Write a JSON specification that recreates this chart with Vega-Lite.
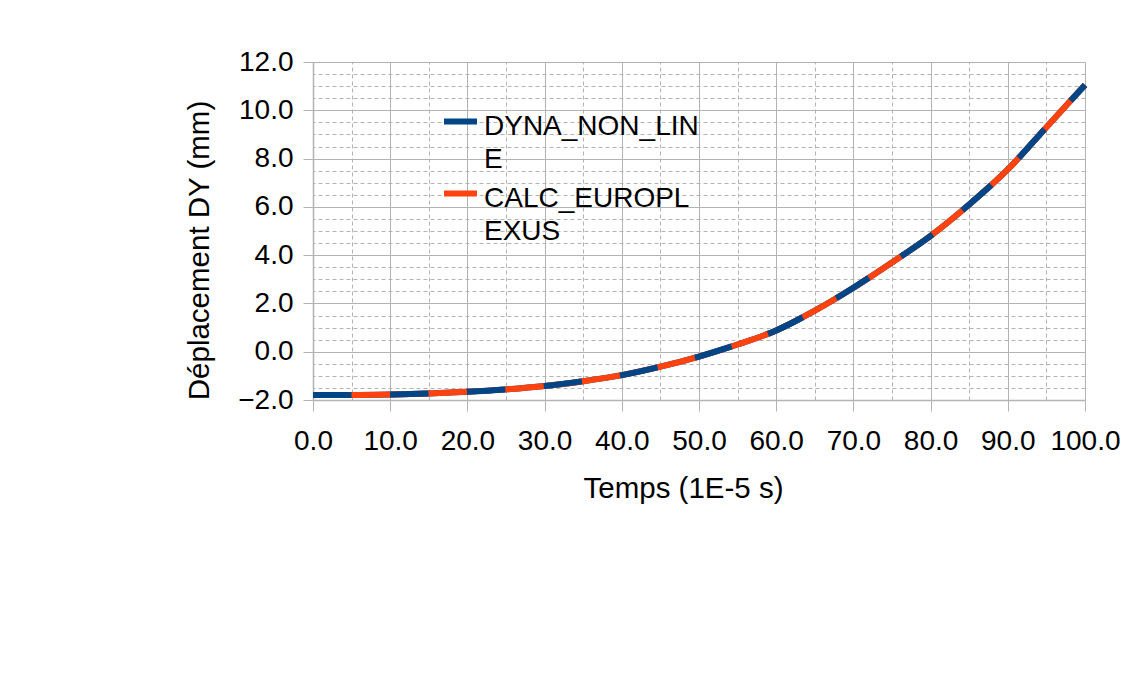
{
  "$schema": "https://vega.github.io/schema/vega-lite/v6.json",
  "width": 772,
  "height": 338,
  "autosize": {"type": "none"},
  "padding": {"left": 313, "top": 62, "right": 53, "bottom": 286},
  "background": "white",
  "config": {
    "font": "Liberation Sans",
    "view": {"stroke": null},
    "axis": {
      "labelFont": "Liberation Sans",
      "titleFont": "Liberation Sans",
      "labelColor": "black",
      "titleColor": "black",
      "titleFontWeight": "normal",
      "labelFontSize": 28,
      "titleFontSize": 29.5
    },
    "legend": {"labelFont": "Liberation Sans"}
  },
  "datasets": {
    "curves": [
      {"series": "DYNA_NON_LINE", "t": 0, "dy": -1.79},
      {"series": "DYNA_NON_LINE", "t": 5, "dy": -1.79},
      {"series": "DYNA_NON_LINE", "t": 10, "dy": -1.77},
      {"series": "DYNA_NON_LINE", "t": 15, "dy": -1.73},
      {"series": "DYNA_NON_LINE", "t": 20, "dy": -1.66},
      {"series": "DYNA_NON_LINE", "t": 25, "dy": -1.56},
      {"series": "DYNA_NON_LINE", "t": 30, "dy": -1.42},
      {"series": "DYNA_NON_LINE", "t": 35, "dy": -1.22},
      {"series": "DYNA_NON_LINE", "t": 40, "dy": -0.97},
      {"series": "DYNA_NON_LINE", "t": 45, "dy": -0.62},
      {"series": "DYNA_NON_LINE", "t": 50, "dy": -0.20},
      {"series": "DYNA_NON_LINE", "t": 55, "dy": 0.30},
      {"series": "DYNA_NON_LINE", "t": 60, "dy": 0.88},
      {"series": "DYNA_NON_LINE", "t": 65, "dy": 1.70},
      {"series": "DYNA_NON_LINE", "t": 70, "dy": 2.65},
      {"series": "DYNA_NON_LINE", "t": 75, "dy": 3.70},
      {"series": "DYNA_NON_LINE", "t": 80, "dy": 4.80},
      {"series": "DYNA_NON_LINE", "t": 85, "dy": 6.10},
      {"series": "DYNA_NON_LINE", "t": 90, "dy": 7.55},
      {"series": "DYNA_NON_LINE", "t": 95, "dy": 9.30},
      {"series": "DYNA_NON_LINE", "t": 100, "dy": 11.05},
      {"series": "CALC_EUROPLEXUS", "t": 0, "dy": -1.79},
      {"series": "CALC_EUROPLEXUS", "t": 5, "dy": -1.79},
      {"series": "CALC_EUROPLEXUS", "t": 10, "dy": -1.77},
      {"series": "CALC_EUROPLEXUS", "t": 15, "dy": -1.73},
      {"series": "CALC_EUROPLEXUS", "t": 20, "dy": -1.66},
      {"series": "CALC_EUROPLEXUS", "t": 25, "dy": -1.56},
      {"series": "CALC_EUROPLEXUS", "t": 30, "dy": -1.42},
      {"series": "CALC_EUROPLEXUS", "t": 35, "dy": -1.22},
      {"series": "CALC_EUROPLEXUS", "t": 40, "dy": -0.97},
      {"series": "CALC_EUROPLEXUS", "t": 45, "dy": -0.62},
      {"series": "CALC_EUROPLEXUS", "t": 50, "dy": -0.20},
      {"series": "CALC_EUROPLEXUS", "t": 55, "dy": 0.30},
      {"series": "CALC_EUROPLEXUS", "t": 60, "dy": 0.88},
      {"series": "CALC_EUROPLEXUS", "t": 65, "dy": 1.70},
      {"series": "CALC_EUROPLEXUS", "t": 70, "dy": 2.65},
      {"series": "CALC_EUROPLEXUS", "t": 75, "dy": 3.70},
      {"series": "CALC_EUROPLEXUS", "t": 80, "dy": 4.80},
      {"series": "CALC_EUROPLEXUS", "t": 85, "dy": 6.10},
      {"series": "CALC_EUROPLEXUS", "t": 90, "dy": 7.55},
      {"series": "CALC_EUROPLEXUS", "t": 95, "dy": 9.30},
      {"series": "CALC_EUROPLEXUS", "t": 100, "dy": 11.05}
    ]
  },
  "data": {"name": "curves"},
  "resolve": {"axis": {"x": "independent", "y": "independent"}},
  "layer": [
    {
      "mark": {"type": "line", "strokeOpacity": 0, "strokeWidth": 0},
      "encoding": {
        "x": {
          "field": "t", "type": "quantitative",
          "scale": {"domain": [0, 100], "nice": false, "zero": false},
          "axis": {
            "orient": "top",
            "values": [5, 15, 25, 35, 45, 55, 65, 75, 85, 95],
            "grid": true, "gridColor": "#b3b3b3", "gridDash": [4, 3], "gridWidth": 1,
            "labels": false, "ticks": false, "domain": false, "title": null
          }
        },
        "y": {
          "field": "dy", "type": "quantitative",
          "scale": {"domain": [-2, 12], "nice": false, "zero": false},
          "axis": {
            "orient": "right",
            "values": [-1.5, -1, -0.5, 0.5, 1, 1.5, 2.5, 3, 3.5, 4.5, 5, 5.5, 6.5, 7, 7.5, 8.5, 9, 9.5, 10.5, 11, 11.5],
            "grid": true, "gridColor": "#b3b3b3", "gridDash": [4, 3], "gridWidth": 1,
            "labels": false, "ticks": false, "domain": false, "title": null
          }
        },
        "detail": {"field": "series"}
      }
    },
    {
      "mark": {"type": "line", "strokeWidth": 6, "interpolate": "monotone", "strokeCap": "butt"},
      "encoding": {
        "x": {
          "field": "t", "type": "quantitative",
          "axis": {
            "orient": "bottom",
            "values": [0, 10, 20, 30, 40, 50, 60, 70, 80, 90, 100],
            "format": ".1f",
            "grid": true, "gridColor": "#b3b3b3", "gridWidth": 1,
            "domain": true, "domainColor": "#b3b3b3", "domainWidth": 1.5,
            "ticks": true, "tickColor": "#b3b3b3", "tickSize": 11, "tickWidth": 1,
            "labelPadding": 16, "labelFlush": false, "labelOverlap": false,
            "title": "Temps (1E-5 s)",
            "titleX": 370, "titleY": 97, "titleBaseline": "alphabetic", "titleAlign": "center", "titleAnchor": null
          }
        },
        "y": {
          "field": "dy", "type": "quantitative",
          "axis": {
            "orient": "left",
            "values": [-2, 0, 2, 4, 6, 8, 10, 12],
            "format": ".1f",
            "grid": true, "gridColor": "#b3b3b3", "gridWidth": 1,
            "domain": true, "domainColor": "#b3b3b3", "domainWidth": 1.5,
            "ticks": true, "tickColor": "#b3b3b3", "tickSize": 10, "tickWidth": 1,
            "labelPadding": 10, "labelFlush": false, "labelOverlap": false,
            "title": "Déplacement DY (mm)",
            "titleX": -105, "titleY": 188, "titleAngle": -90, "titleBaseline": "alphabetic", "titleAlign": "center", "titleAnchor": null
          }
        },
        "color": {
          "field": "series", "type": "nominal",
          "scale": {"domain": ["DYNA_NON_LINE", "CALC_EUROPLEXUS"], "range": ["#004586", "#ff420e"]},
          "sort": ["DYNA_NON_LINE", "CALC_EUROPLEXUS"],
          "legend": {
            "title": null,
            "orient": "none",
            "legendX": 128,
            "legendY": 40,
            "symbolType": "stroke",
            "symbolSize": 1089,
            "symbolStrokeWidth": 6,
            "symbolOffset": 0,
            "labelFontSize": 28,
            "labelColor": "black",
            "labelOffset": 4,
            "labelLimit": 400,
            "labelBaseline": "top",
            "rowPadding": -3,
            "padding": 0,
            "labelExpr": "datum.label == 'DYNA_NON_LINE' ? ['DYNA_NON_LIN', 'E'] : ['CALC_EUROPL', 'EXUS']",
            "encode": {
              "labels": {"update": {"lineHeight": {"value": 33}, "dy": {"value": -9}}}
            }
          }
        }
      }
    },
    {
      "transform": [{"filter": "datum.series == 'DYNA_NON_LINE'"}],
      "mark": {"type": "line", "strokeWidth": 6, "interpolate": "monotone", "strokeCap": "butt", "color": "#004586", "strokeDash": [38.5, 38.5]},
      "encoding": {
        "x": {"field": "t", "type": "quantitative", "axis": null},
        "y": {"field": "dy", "type": "quantitative", "axis": null}
      }
    }
  ]
}
